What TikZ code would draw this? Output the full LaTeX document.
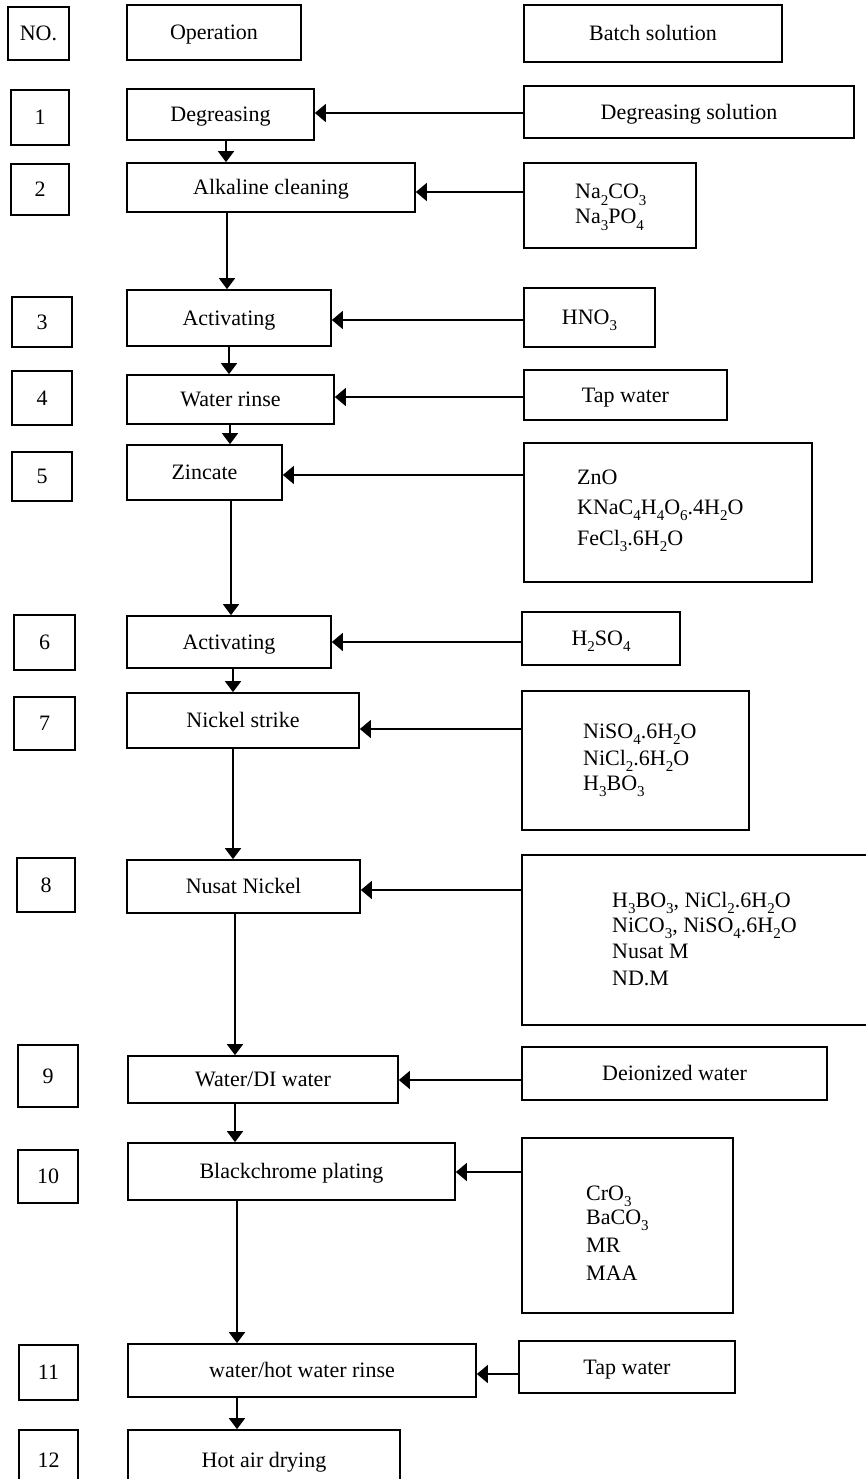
\documentclass[tikz,border=0pt]{standalone}
\usepackage{fontspec}
\setmainfont{Liberation Serif}
\usetikzlibrary{arrows.meta}
\newcommand\sbs[1]{\raisebox{-0.6ex}{\fontsize{15}{15}\selectfont #1}}
\newcommand\bx[6]{\node[box,minimum width={(#4)-(#2)},minimum height={(#5)-(#3)}] (#1) at ({((#2)+(#4))/2},{((#3)+(#5))/2}) {#6};}
\begin{document}
\begin{tikzpicture}[x=1pt,y=-1pt,
  box/.style={draw,line width=1.7pt,inner sep=0pt,text height=14.5pt,text depth=0pt,font=\fontsize{22}{25}\selectfont},
  flow/.style={line width=1.6pt,-{Triangle[length=11pt,width=16pt]}},
  feed/.style={line width=1.8pt,-{Triangle[length=11pt,width=18pt]}},
  lbl/.style={anchor=base west,inner sep=0pt,font=\fontsize{22}{25}\selectfont}]
\useasboundingbox (0,0) rectangle (866,1479);
% header
\bx{no}{8}{7}{69}{60}{NO.}
\bx{oph}{127}{5}{301}{60}{Operation}
\bx{bh}{524}{5}{782}{62}{Batch solution}
% numbers
\bx{n1}{11}{90}{69}{145}{1}
\bx{n2}{11}{164}{69}{215}{2}
\bx{n3}{12}{297}{72}{347}{3}
\bx{n4}{12}{371}{72}{425}{4}
\bx{n5}{12}{452}{72}{501}{5}
\bx{n6}{14}{615}{75}{670}{6}
\bx{n7}{14}{697}{75}{750}{7}
\bx{n8}{17}{858}{75}{912}{8}
\bx{n9}{18}{1045}{78}{1107}{9}
\bx{n10}{18}{1150}{78}{1203}{10}
\bx{n11}{19}{1345}{78}{1400}{11}
\bx{n12}{19}{1430}{78}{1490}{12}
% operations
\bx{op1}{127}{89}{314}{140}{Degreasing}
\bx{op2}{127}{163}{415}{212}{Alkaline cleaning}
\bx{op3}{127}{290}{331}{346}{Activating}
\bx{op4}{127}{375}{334}{424}{Water rinse}
\bx{op5}{127}{445}{282}{500}{Zincate}
\bx{op6}{127}{616}{331}{668}{Activating}
\bx{op7}{127}{693}{359}{748}{Nickel strike}
\bx{op8}{127}{860}{360}{913}{Nusat Nickel}
\bx{op9}{128}{1056}{398}{1103}{Water/DI water}
\bx{op10}{128}{1143}{455}{1200}{Blackchrome plating}
\bx{op11}{128}{1344}{476}{1397}{water/hot water rinse}
\bx{op12}{128}{1430}{400}{1490}{Hot air drying}
% batch solutions
\bx{c1}{524}{86}{854}{138}{Degreasing solution}
\bx{c2}{524}{163}{696}{248}{}
\bx{c3}{524}{288}{655}{347}{HNO\sbs{3}}
\bx{c4}{524}{370}{727}{420}{Tap water}
\bx{c5}{524}{443}{812}{582}{}
\bx{c6}{522}{612}{680}{665}{H\sbs{2}SO\sbs{4}}
\bx{c7}{522}{691}{749}{830}{}
\bx{c8}{522}{855}{890}{1025}{}
\bx{c9}{522}{1047}{827}{1100}{Deionized water}
\bx{c10}{522}{1138}{733}{1313}{}
\bx{c11}{519}{1341}{735}{1393}{Tap water}
% multi-line contents
\node[lbl] (t2a) at (575,199) {Na\sbs{2}CO\sbs{3}};
\node[lbl] (t2b) at (575,224) {Na\sbs{3}PO\sbs{4}};
\node[lbl] (t5a) at (577,484) {ZnO};
\node[lbl] (t5b) at (577,514) {KNaC\sbs{4}H\sbs{4}O\sbs{6}.4H\sbs{2}O};
\node[lbl] (t5c) at (577,545) {FeCl\sbs{3}.6H\sbs{2}O};
\node[lbl] (t7a) at (583,738) {NiSO\sbs{4}.6H\sbs{2}O};
\node[lbl] (t7b) at (583,765) {NiCl\sbs{2}.6H\sbs{2}O};
\node[lbl] (t7c) at (583,790) {H\sbs{3}BO\sbs{3}};
\node[lbl] (t8a) at (612,907) {H\sbs{3}BO\sbs{3}, NiCl\sbs{2}.6H\sbs{2}O};
\node[lbl] (t8b) at (612,932) {NiCO\sbs{3}, NiSO\sbs{4}.6H\sbs{2}O};
\node[lbl] (t8c) at (612,958) {Nusat M};
\node[lbl] (t8d) at (612,985) {ND.M};
\node[lbl] (t10a) at (586,1200) {CrO\sbs{3}};
\node[lbl] (t10b) at (586,1224) {BaCO\sbs{3}};
\node[lbl] (t10c) at (586,1252) {MR};
\node[lbl] (t10d) at (586,1280) {MAA};
% feed arrows
\draw[feed] (c1.west |- 0,113) -- (op1.east |- 0,113);
\draw[feed] (c2.west |- 0,192) -- (op2.east |- 0,192);
\draw[feed] (c3.west |- 0,320) -- (op3.east |- 0,320);
\draw[feed] (c4.west |- 0,397) -- (op4.east |- 0,397);
\draw[feed] (c5.west |- 0,475) -- (op5.east |- 0,475);
\draw[feed] (c6.west |- 0,642) -- (op6.east |- 0,642);
\draw[feed] (c7.west |- 0,729) -- (op7.east |- 0,729);
\draw[feed] (c8.west |- 0,890) -- (op8.east |- 0,890);
\draw[feed] (c9.west |- 0,1080) -- (op9.east |- 0,1080);
\draw[feed] (c10.west |- 0,1172) -- (op10.east |- 0,1172);
\draw[feed] (c11.west |- 0,1374) -- (op11.east |- 0,1374);
% flow arrows
\draw[flow] (op1.south -| 226,0) -- (op2.north -| 226,0);
\draw[flow] (op2.south -| 227,0) -- (op3.north -| 227,0);
\draw[flow] (op3.south -| 229,0) -- (op4.north -| 229,0);
\draw[flow] (op4.south -| 230,0) -- (op5.north -| 230,0);
\draw[flow] (op5.south -| 231,0) -- (op6.north -| 231,0);
\draw[flow] (op6.south -| 233,0) -- (op7.north -| 233,0);
\draw[flow] (op7.south -| 233,0) -- (op8.north -| 233,0);
\draw[flow] (op8.south -| 235,0) -- (op9.north -| 235,0);
\draw[flow] (op9.south -| 235,0) -- (op10.north -| 235,0);
\draw[flow] (op10.south -| 237,0) -- (op11.north -| 237,0);
\draw[flow] (op11.south -| 237,0) -- (op12.north -| 237,0);
\end{tikzpicture}
\end{document}
